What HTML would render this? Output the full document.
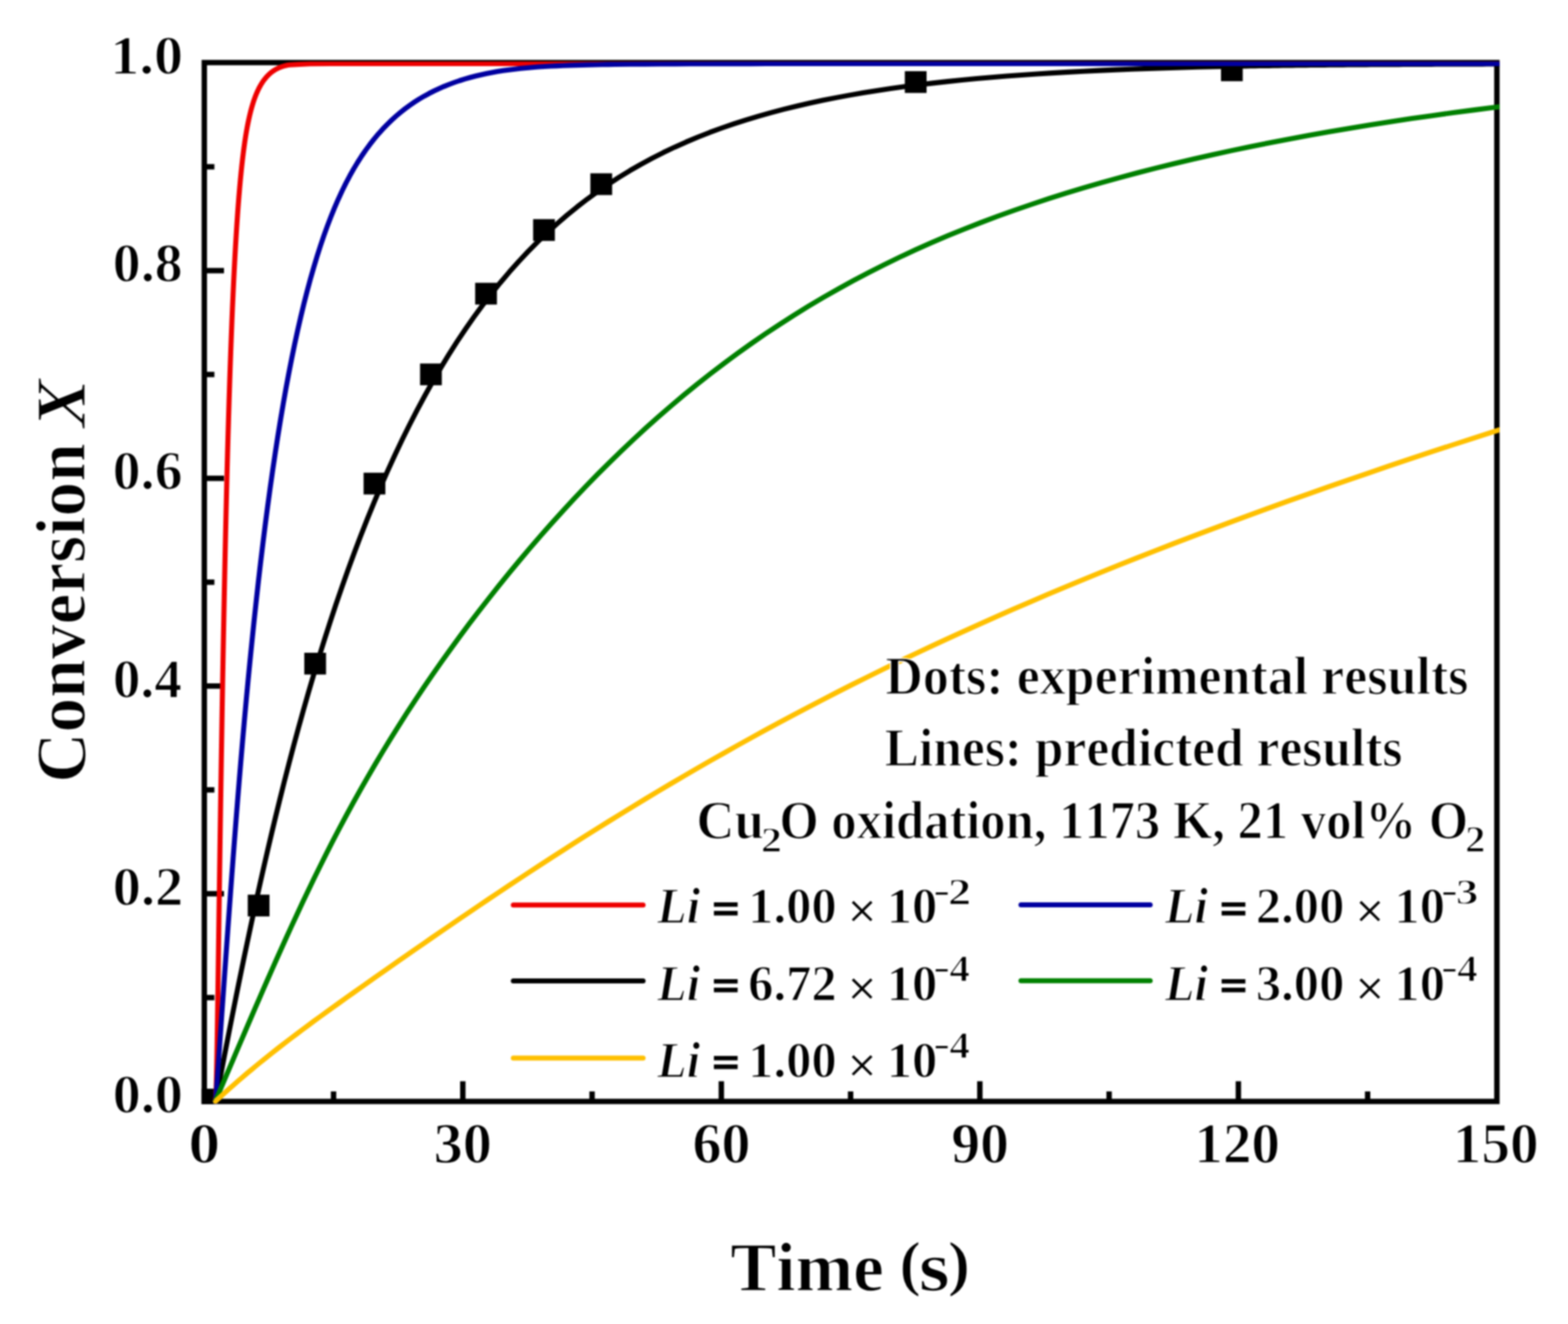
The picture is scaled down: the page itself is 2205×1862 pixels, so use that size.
<!DOCTYPE html>
<html><head><meta charset="utf-8"><style>
html,body{margin:0;padding:0;background:#fff;}
svg{display:block;filter:blur(1.0px);}
text{font-family:"Liberation Serif",serif;font-weight:bold;font-kerning:none;fill:#000;stroke:#fff;stroke-width:1.60px;vector-effect:non-scaling-stroke;stroke-linejoin:round;}
</style></head><body>
<svg width="2205" height="1862" viewBox="0 0 2205 1862">
<rect x="0" y="0" width="2205" height="1862" fill="#fff"/>
<defs><clipPath id="pc"><rect x="283.5" y="86.5" width="1825.30" height="1466.30"/></clipPath></defs>
<path d="M287.30 88.00 H2105.00 V1549.00 H287.30 Z" fill="none" stroke="#000" stroke-width="7.60" stroke-linejoin="miter"/>
<line x1="287.30" y1="1402.95" x2="301.50" y2="1402.95" stroke="#000" stroke-width="7.60"/>
<line x1="287.30" y1="1256.90" x2="315.00" y2="1256.90" stroke="#000" stroke-width="7.60"/>
<line x1="287.30" y1="1110.85" x2="301.50" y2="1110.85" stroke="#000" stroke-width="7.60"/>
<line x1="287.30" y1="964.80" x2="315.00" y2="964.80" stroke="#000" stroke-width="7.60"/>
<line x1="287.30" y1="818.75" x2="301.50" y2="818.75" stroke="#000" stroke-width="7.60"/>
<line x1="287.30" y1="672.70" x2="315.00" y2="672.70" stroke="#000" stroke-width="7.60"/>
<line x1="287.30" y1="526.65" x2="301.50" y2="526.65" stroke="#000" stroke-width="7.60"/>
<line x1="287.30" y1="380.60" x2="315.00" y2="380.60" stroke="#000" stroke-width="7.60"/>
<line x1="287.30" y1="234.55" x2="301.50" y2="234.55" stroke="#000" stroke-width="7.60"/>
<line x1="469.07" y1="1549.00" x2="469.07" y2="1534.90" stroke="#000" stroke-width="7.60"/>
<line x1="650.84" y1="1549.00" x2="650.84" y2="1520.60" stroke="#000" stroke-width="7.60"/>
<line x1="832.61" y1="1549.00" x2="832.61" y2="1534.90" stroke="#000" stroke-width="7.60"/>
<line x1="1014.38" y1="1549.00" x2="1014.38" y2="1520.60" stroke="#000" stroke-width="7.60"/>
<line x1="1196.15" y1="1549.00" x2="1196.15" y2="1534.90" stroke="#000" stroke-width="7.60"/>
<line x1="1377.92" y1="1549.00" x2="1377.92" y2="1520.60" stroke="#000" stroke-width="7.60"/>
<line x1="1559.69" y1="1549.00" x2="1559.69" y2="1534.90" stroke="#000" stroke-width="7.60"/>
<line x1="1741.46" y1="1549.00" x2="1741.46" y2="1520.60" stroke="#000" stroke-width="7.60"/>
<line x1="1923.23" y1="1549.00" x2="1923.23" y2="1534.90" stroke="#000" stroke-width="7.60"/>
<g clip-path="url(#pc)">
<rect x="270.70" y="1531.10" width="30.60" height="30.60" fill="#000"/>
<rect x="348.40" y="1258.20" width="30.60" height="30.60" fill="#000"/>
<rect x="427.90" y="918.00" width="30.60" height="30.60" fill="#000"/>
<rect x="511.30" y="664.80" width="30.60" height="30.60" fill="#000"/>
<rect x="590.70" y="511.20" width="30.60" height="30.60" fill="#000"/>
<rect x="668.20" y="397.70" width="30.60" height="30.60" fill="#000"/>
<rect x="749.70" y="308.20" width="30.60" height="30.60" fill="#000"/>
<rect x="830.20" y="243.70" width="30.60" height="30.60" fill="#000"/>
<rect x="1272.40" y="100.10" width="30.60" height="30.60" fill="#000"/>
<rect x="1717.00" y="83.60" width="30.60" height="30.60" fill="#000"/>
<path d="M303.00 1547.50 L303.00 1545.32 L303.01 1545.32 L303.03 1545.32 L303.07 1545.31 L303.12 1545.19 L303.18 1544.91 L303.26 1544.36 L303.36 1543.43 L303.47 1541.99 L303.59 1539.89 L303.73 1536.98 L303.89 1533.09 L304.06 1528.06 L304.24 1521.74 L304.44 1513.95 L304.65 1504.58 L304.88 1493.49 L305.12 1480.59 L305.38 1465.81 L305.65 1449.14 L305.94 1430.58 L306.24 1410.20 L306.55 1388.11 L306.89 1364.47 L307.23 1339.48 L307.59 1313.42 L307.96 1286.57 L308.35 1259.06 L308.76 1230.94 L309.18 1202.27 L309.61 1173.11 L310.06 1143.52 L310.52 1113.57 L311.00 1083.32 L311.49 1052.85 L312.00 1022.22 L312.52 991.50 L313.05 960.77 L313.60 930.09 L314.17 899.53 L314.75 869.17 L315.35 839.07 L315.96 809.29 L316.58 779.90 L317.22 750.97 L317.87 722.54 L318.54 694.68 L319.22 667.43 L319.92 640.82 L320.63 614.88 L321.36 589.65 L322.10 565.13 L322.86 541.35 L323.63 518.32 L324.42 496.06 L325.22 474.57 L326.03 453.86 L326.86 433.94 L327.71 414.80 L328.56 396.44 L329.44 378.85 L330.33 362.04 L331.23 345.98 L332.15 330.68 L333.08 316.11 L334.03 302.25 L334.99 289.10 L335.97 276.64 L336.96 264.84 L337.97 253.68 L338.99 243.15 L340.02 233.23 L341.07 223.88 L342.14 215.09 L343.22 206.83 L344.31 199.09 L345.42 191.83 L346.54 185.04 L347.68 178.68 L348.83 172.74 L350.00 167.17 L351.18 161.96 L352.38 157.08 L353.59 152.50 L354.82 148.21 L356.06 144.19 L357.32 140.42 L358.59 136.88 L359.87 133.56 L361.17 130.44 L362.49 127.51 L363.82 124.76 L365.16 122.18 L366.52 119.75 L367.89 117.47 L369.28 115.33 L370.68 113.31 L372.10 111.42 L373.53 109.65 L374.98 107.98 L376.44 106.42 L377.92 104.96 L379.41 103.59 L380.91 102.31 L382.43 101.12 L383.97 100.00 L385.52 98.97 L387.08 98.01 L388.66 97.12 L390.26 96.30 L391.86 95.54 L393.49 94.84 L395.12 94.21 L396.78 93.63 L398.44 93.10 L400.13 92.63 L401.82 92.20 L403.53 91.82 L405.26 91.48 L407.00 91.17 L435.99 89.62 L464.97 89.51 L493.96 89.50 L522.94 89.50 L551.93 89.50 L580.91 89.50 L609.90 89.50 L638.88 89.50 L667.87 89.50 L696.85 89.50 L725.84 89.50 L754.82 89.50 L783.81 89.50 L812.79 89.50 L841.78 89.50 L870.76 89.50 L899.75 89.50 L928.73 89.50 L957.72 89.50 L986.70 89.50 L1015.69 89.50 L1044.67 89.50 L1073.66 89.50 L1102.64 89.50 L1131.63 89.50 L1160.61 89.50 L1189.60 89.50 L1218.58 89.50 L1247.57 89.50 L1276.55 89.50 L1305.54 89.50 L1334.52 89.50 L1363.51 89.50 L1392.49 89.50 L1421.48 89.50 L1450.46 89.50 L1479.45 89.50 L1508.43 89.50 L1537.42 89.50 L1566.40 89.50 L1595.39 89.50 L1624.37 89.50 L1653.36 89.50 L1682.34 89.50 L1711.33 89.50 L1740.31 89.50 L1769.30 89.50 L1798.28 89.50 L1827.27 89.50 L1856.25 89.50 L1885.24 89.50 L1914.22 89.50 L1943.21 89.50 L1972.19 89.50 L2001.18 89.50 L2030.16 89.50 L2059.15 89.50 L2088.13 89.50 L2117.12 89.50" fill="none" stroke="#ee0000" stroke-width="7.10" stroke-linejoin="round"/>
<path d="M303.00 1547.50 L303.00 1549.00 L303.10 1549.00 L303.40 1548.88 L303.91 1546.19 L304.61 1542.43 L305.52 1537.61 L306.63 1531.73 L307.94 1524.79 L309.46 1516.82 L311.17 1507.81 L313.09 1497.80 L315.21 1486.78 L317.53 1474.77 L320.05 1461.81 L322.78 1447.90 L325.70 1433.07 L328.83 1417.34 L332.16 1400.75 L335.70 1383.32 L339.43 1365.09 L343.36 1346.09 L347.50 1326.36 L351.84 1305.93 L356.38 1284.86 L361.12 1263.17 L366.07 1240.93 L371.22 1218.17 L376.56 1194.96 L382.11 1171.33 L387.87 1147.34 L393.82 1123.05 L399.98 1098.51 L406.33 1073.79 L412.89 1048.91 L419.65 1023.93 L426.62 998.89 L433.78 973.83 L441.15 948.78 L448.72 923.78 L456.49 898.88 L464.46 874.10 L472.63 849.49 L481.01 825.06 L489.58 800.86 L498.36 776.92 L507.34 753.25 L516.53 729.89 L525.91 706.87 L535.50 684.20 L545.29 661.90 L555.28 640.01 L565.47 618.52 L575.86 597.47 L586.46 576.86 L597.26 556.71 L608.26 537.04 L619.46 517.84 L630.86 499.14 L642.46 480.94 L654.27 463.24 L666.28 446.06 L678.49 429.39 L690.90 413.23 L703.52 397.60 L716.33 382.48 L729.35 367.88 L742.57 353.80 L755.99 340.22 L769.61 327.15 L783.44 314.58 L797.46 302.50 L811.69 290.91 L826.12 279.80 L840.75 269.15 L855.59 258.97 L870.62 249.23 L885.86 239.93 L901.30 231.06 L916.94 222.61 L932.79 214.56 L948.83 206.91 L965.08 199.64 L981.53 192.73 L998.18 186.18 L1015.03 179.98 L1032.08 174.11 L1049.34 168.55 L1066.80 163.30 L1084.45 158.33 L1102.32 153.63 L1120.38 149.20 L1138.64 145.02 L1157.11 141.08 L1175.78 137.36 L1194.65 133.87 L1213.72 130.57 L1233.00 127.48 L1252.47 124.57 L1272.15 121.84 L1292.03 119.28 L1312.11 116.88 L1332.39 114.63 L1352.88 112.53 L1373.56 110.57 L1394.45 108.74 L1415.54 107.04 L1436.84 105.46 L1458.33 103.99 L1480.03 102.62 L1501.92 101.36 L1524.02 100.20 L1546.32 99.12 L1568.83 98.13 L1591.53 97.22 L1614.44 96.39 L1637.55 95.63 L1660.86 94.94 L1684.37 94.31 L1708.08 93.74 L1732.00 93.22 L1738.53 93.10 L1745.05 92.98 L1751.58 92.86 L1758.11 92.74 L1764.64 92.63 L1771.16 92.53 L1777.69 92.42 L1784.22 92.33 L1790.75 92.23 L1797.27 92.14 L1803.80 92.05 L1810.33 91.96 L1816.86 91.88 L1823.38 91.80 L1829.91 91.72 L1836.44 91.64 L1842.97 91.57 L1849.49 91.50 L1856.02 91.43 L1862.55 91.37 L1869.08 91.30 L1875.60 91.24 L1882.13 91.18 L1888.66 91.13 L1895.19 91.07 L1901.71 91.02 L1908.24 90.97 L1914.77 90.92 L1921.30 90.87 L1927.82 90.82 L1934.35 90.78 L1940.88 90.73 L1947.40 90.69 L1953.93 90.65 L1960.46 90.61 L1966.99 90.58 L1973.51 90.54 L1980.04 90.50 L1986.57 90.47 L1993.10 90.44 L1999.62 90.41 L2006.15 90.37 L2012.68 90.35 L2019.21 90.32 L2025.73 90.29 L2032.26 90.26 L2038.79 90.24 L2045.32 90.21 L2051.84 90.19 L2058.37 90.16 L2064.90 90.14 L2071.43 90.12 L2077.95 90.10 L2084.48 90.08 L2091.01 90.06 L2097.54 90.04 L2104.06 90.02 L2110.59 90.00 L2117.12 89.99" fill="none" stroke="#000" stroke-width="7.10" stroke-linejoin="round"/>
<path d="M303.00 1547.50 L303.00 1549.00 L303.04 1549.00 L303.16 1549.00 L303.36 1547.34 L303.63 1543.47 L303.99 1538.48 L304.43 1532.37 L304.94 1525.14 L305.54 1516.78 L306.21 1507.28 L306.97 1496.64 L307.80 1484.86 L308.71 1471.94 L309.70 1457.88 L310.77 1442.69 L311.92 1426.37 L313.15 1408.94 L314.46 1390.42 L315.85 1370.83 L317.32 1350.20 L318.87 1328.57 L320.49 1305.98 L322.20 1282.49 L323.98 1258.15 L325.85 1233.03 L327.79 1207.20 L329.81 1180.74 L331.92 1153.73 L334.10 1126.27 L336.36 1098.45 L338.70 1070.38 L341.12 1042.16 L343.62 1013.87 L346.20 985.55 L348.85 957.28 L351.59 929.09 L354.41 901.05 L357.30 873.19 L360.28 845.57 L363.33 818.23 L366.46 791.21 L369.68 764.55 L372.97 738.29 L376.34 712.47 L379.79 687.11 L383.32 662.25 L386.93 637.91 L390.62 614.11 L394.39 590.88 L398.24 568.23 L402.16 546.19 L406.17 524.77 L410.25 503.97 L414.42 483.80 L418.66 464.29 L422.99 445.41 L427.39 427.19 L431.87 409.62 L436.43 392.70 L441.07 376.42 L445.80 360.78 L450.59 345.78 L455.47 331.40 L460.43 317.64 L465.47 304.49 L470.59 291.93 L475.78 279.95 L481.06 268.54 L486.41 257.68 L491.85 247.36 L497.36 237.54 L502.95 228.23 L508.62 219.38 L514.38 210.99 L520.21 203.03 L526.12 195.48 L532.11 188.34 L538.18 181.57 L544.32 175.17 L550.55 169.11 L556.86 163.39 L563.24 157.99 L569.71 152.89 L576.25 148.08 L582.88 143.55 L589.58 139.29 L596.36 135.28 L603.23 131.52 L610.17 127.99 L617.19 124.68 L624.29 121.59 L631.47 118.71 L638.73 116.01 L646.06 113.51 L653.48 111.18 L660.98 109.03 L668.56 107.03 L676.21 105.19 L683.95 103.51 L691.76 101.97 L699.65 100.57 L707.63 99.31 L715.68 98.17 L723.81 97.15 L732.02 96.24 L740.31 95.43 L748.68 94.71 L757.13 94.07 L765.66 93.51 L774.26 93.02 L782.95 92.58 L791.72 92.21 L800.56 91.88 L809.49 91.59 L818.49 91.34 L827.57 91.12 L836.74 90.94 L845.98 90.77 L855.30 90.63 L864.70 90.51 L885.93 90.27 L907.15 90.09 L928.38 89.95 L949.61 89.84 L970.84 89.76 L992.06 89.70 L1013.29 89.65 L1034.52 89.62 L1055.75 89.59 L1076.97 89.57 L1098.20 89.55 L1119.43 89.54 L1140.66 89.53 L1161.88 89.52 L1183.11 89.52 L1204.34 89.51 L1225.57 89.51 L1246.79 89.51 L1268.02 89.51 L1289.25 89.50 L1310.48 89.50 L1331.70 89.50 L1352.93 89.50 L1374.16 89.50 L1395.39 89.50 L1416.61 89.50 L1437.84 89.50 L1459.07 89.50 L1480.30 89.50 L1501.52 89.50 L1522.75 89.50 L1543.98 89.50 L1565.20 89.50 L1586.43 89.50 L1607.66 89.50 L1628.89 89.50 L1650.11 89.50 L1671.34 89.50 L1692.57 89.50 L1713.80 89.50 L1735.02 89.50 L1756.25 89.50 L1777.48 89.50 L1798.71 89.50 L1819.93 89.50 L1841.16 89.50 L1862.39 89.50 L1883.62 89.50 L1904.84 89.50 L1926.07 89.50 L1947.30 89.50 L1968.53 89.50 L1989.75 89.50 L2010.98 89.50 L2032.21 89.50 L2053.44 89.50 L2074.66 89.50 L2095.89 89.50 L2117.12 89.50" fill="none" stroke="#0000a0" stroke-width="7.10" stroke-linejoin="round"/>
<path d="M303.00 1547.50 L303.00 1548.27 L303.13 1547.98 L303.51 1547.08 L304.14 1545.60 L305.03 1543.51 L306.18 1540.83 L307.58 1537.56 L309.23 1533.68 L311.14 1529.21 L313.30 1524.14 L315.71 1518.47 L318.38 1512.20 L321.31 1505.34 L324.49 1497.88 L327.92 1489.82 L331.60 1481.17 L335.55 1471.94 L339.74 1462.12 L344.19 1451.73 L348.89 1440.76 L353.85 1429.24 L359.06 1417.16 L364.53 1404.55 L370.25 1391.41 L376.23 1377.76 L382.46 1363.63 L388.94 1349.02 L395.68 1333.97 L402.67 1318.50 L409.92 1302.63 L417.42 1286.39 L425.17 1269.82 L433.18 1252.94 L441.45 1235.81 L449.96 1218.44 L458.74 1200.88 L467.76 1183.18 L477.04 1165.38 L486.58 1147.49 L496.37 1129.53 L506.41 1111.52 L516.71 1093.46 L527.26 1075.38 L538.06 1057.28 L549.13 1039.17 L560.44 1021.06 L572.01 1002.96 L583.83 984.88 L595.91 966.82 L608.24 948.79 L620.83 930.78 L633.67 912.82 L646.76 894.88 L660.11 876.99 L673.71 859.13 L687.57 841.31 L701.68 823.53 L716.05 805.80 L730.67 788.12 L745.54 770.51 L760.67 752.99 L776.05 735.58 L791.69 718.29 L807.58 701.14 L823.73 684.14 L840.13 667.31 L856.78 650.66 L873.69 634.21 L890.85 617.96 L908.27 601.94 L925.94 586.15 L943.87 570.60 L962.05 555.31 L980.48 540.29 L999.17 525.54 L1018.11 511.07 L1037.31 496.89 L1056.76 483.01 L1076.46 469.44 L1096.42 456.17 L1116.64 443.22 L1137.11 430.59 L1157.83 418.28 L1178.80 406.30 L1200.04 394.64 L1221.52 383.31 L1243.26 372.31 L1265.25 361.64 L1287.50 351.30 L1310.00 341.29 L1332.76 331.59 L1355.77 322.19 L1379.04 313.10 L1402.55 304.29 L1426.33 295.75 L1450.36 287.49 L1474.64 279.48 L1499.17 271.72 L1523.96 264.21 L1549.01 256.92 L1574.31 249.87 L1599.86 243.03 L1625.67 236.40 L1651.73 229.98 L1678.05 223.75 L1704.62 217.72 L1731.44 211.87 L1758.52 206.21 L1785.85 200.72 L1813.44 195.40 L1841.28 190.25 L1869.38 185.26 L1897.73 180.43 L1926.33 175.76 L1955.19 171.24 L1984.31 166.86 L2013.67 162.64 L2043.29 158.56 L2073.17 154.62 L2103.30 150.82 L2103.53 150.79 L2103.77 150.76 L2104.00 150.73 L2104.24 150.71 L2104.47 150.68 L2104.71 150.65 L2104.94 150.62 L2105.17 150.59 L2105.41 150.57 L2105.64 150.54 L2105.88 150.51 L2106.11 150.48 L2106.34 150.45 L2106.58 150.43 L2106.81 150.40 L2107.05 150.37 L2107.28 150.34 L2107.52 150.31 L2107.75 150.29 L2107.98 150.26 L2108.22 150.23 L2108.45 150.20 L2108.69 150.18 L2108.92 150.15 L2109.16 150.12 L2109.39 150.09 L2109.62 150.06 L2109.86 150.04 L2110.09 150.01 L2110.33 149.98 L2110.56 149.95 L2110.79 149.93 L2111.03 149.90 L2111.26 149.87 L2111.50 149.84 L2111.73 149.82 L2111.97 149.79 L2112.20 149.76 L2112.43 149.73 L2112.67 149.71 L2112.90 149.68 L2113.14 149.65 L2113.37 149.62 L2113.60 149.60 L2113.84 149.57 L2114.07 149.54 L2114.31 149.51 L2114.54 149.49 L2114.78 149.46 L2115.01 149.43 L2115.24 149.40 L2115.48 149.38 L2115.71 149.35 L2115.95 149.32 L2116.18 149.29 L2116.42 149.27 L2116.65 149.24 L2116.88 149.21 L2117.12 149.18" fill="none" stroke="#008000" stroke-width="7.10" stroke-linejoin="round"/>
<path d="M303.00 1547.50 L303.00 1548.77 L303.13 1548.65 L303.51 1548.30 L304.14 1547.71 L305.03 1546.88 L306.17 1545.83 L307.57 1544.54 L309.22 1543.03 L311.13 1541.29 L313.28 1539.33 L315.70 1537.15 L318.36 1534.75 L321.28 1532.14 L324.46 1529.33 L327.89 1526.30 L331.57 1523.09 L335.50 1519.67 L339.69 1516.07 L344.14 1512.28 L348.84 1508.31 L353.79 1504.17 L358.99 1499.86 L364.45 1495.38 L370.17 1490.74 L376.13 1485.94 L382.36 1480.99 L388.83 1475.89 L395.56 1470.64 L402.54 1465.25 L409.78 1459.72 L417.27 1454.05 L425.02 1448.25 L433.02 1442.30 L441.27 1436.22 L449.78 1430.00 L458.54 1423.65 L467.55 1417.15 L476.82 1410.51 L486.34 1403.71 L496.12 1396.77 L506.15 1389.67 L516.43 1382.40 L526.97 1374.96 L537.76 1367.37 L548.81 1359.61 L560.11 1351.70 L571.67 1343.63 L583.47 1335.41 L595.54 1327.05 L607.85 1318.53 L620.42 1309.87 L633.24 1301.07 L646.32 1292.14 L659.65 1283.07 L673.24 1273.87 L687.08 1264.55 L701.17 1255.11 L715.52 1245.55 L730.12 1235.89 L744.98 1226.11 L760.09 1216.23 L775.45 1206.26 L791.07 1196.19 L806.94 1186.04 L823.06 1175.81 L839.44 1165.50 L856.07 1155.12 L872.96 1144.68 L890.10 1134.18 L907.50 1123.63 L925.15 1113.04 L943.05 1102.40 L961.20 1091.73 L979.61 1081.03 L998.28 1070.29 L1017.20 1059.54 L1036.37 1048.77 L1055.80 1037.99 L1075.48 1027.20 L1095.41 1016.40 L1115.60 1005.61 L1136.04 994.82 L1156.74 984.04 L1177.69 973.27 L1198.89 962.53 L1220.35 951.81 L1242.06 941.12 L1264.02 930.46 L1286.24 919.83 L1308.72 909.24 L1331.44 898.69 L1354.43 888.17 L1377.66 877.68 L1401.15 867.23 L1424.89 856.82 L1448.89 846.44 L1473.14 836.10 L1497.65 825.79 L1522.40 815.52 L1547.42 805.29 L1572.68 795.08 L1598.20 784.91 L1623.98 774.78 L1650.01 764.67 L1676.29 754.60 L1702.83 744.56 L1729.62 734.55 L1756.66 724.56 L1783.96 714.61 L1811.51 704.69 L1839.32 694.79 L1867.38 684.92 L1895.69 675.08 L1924.26 665.27 L1953.08 655.47 L1982.16 645.71 L2011.49 635.96 L2041.07 626.25 L2070.91 616.55 L2101.00 606.88 L2101.27 606.79 L2101.55 606.71 L2101.82 606.62 L2102.09 606.53 L2102.37 606.45 L2102.64 606.36 L2102.91 606.28 L2103.19 606.19 L2103.46 606.10 L2103.73 606.02 L2104.01 605.93 L2104.28 605.85 L2104.55 605.76 L2104.82 605.67 L2105.10 605.59 L2105.37 605.50 L2105.64 605.42 L2105.92 605.33 L2106.19 605.25 L2106.46 605.16 L2106.74 605.07 L2107.01 604.99 L2107.28 604.90 L2107.56 604.82 L2107.83 604.73 L2108.10 604.65 L2108.38 604.56 L2108.65 604.47 L2108.92 604.39 L2109.20 604.30 L2109.47 604.22 L2109.74 604.13 L2110.02 604.05 L2110.29 603.96 L2110.56 603.87 L2110.83 603.79 L2111.11 603.70 L2111.38 603.62 L2111.65 603.53 L2111.93 603.45 L2112.20 603.36 L2112.47 603.28 L2112.75 603.19 L2113.02 603.10 L2113.29 603.02 L2113.57 602.93 L2113.84 602.85 L2114.11 602.76 L2114.39 602.68 L2114.66 602.59 L2114.93 602.51 L2115.21 602.42 L2115.48 602.34 L2115.75 602.25 L2116.03 602.17 L2116.30 602.08 L2116.57 602.00 L2116.84 601.91 L2117.12 601.82" fill="none" stroke="#ffc000" stroke-width="7.10" stroke-linejoin="round"/>
</g>
<text transform="matrix(0.78972 0 0 0.79211 158.59 1564.78)" font-size="100" font-style="normal">0.0</text>
<text transform="matrix(0.79302 0 0 0.79211 158.58 1272.68)" font-size="100" font-style="normal">0.2</text>
<text transform="matrix(0.77680 0 0 0.79211 158.64 980.58)" font-size="100" font-style="normal">0.4</text>
<text transform="matrix(0.78385 0 0 0.79211 158.61 688.48)" font-size="100" font-style="normal">0.6</text>
<text transform="matrix(0.78645 0 0 0.79211 158.60 396.38)" font-size="100" font-style="normal">0.8</text>
<text transform="matrix(0.81902 0 0 0.79211 155.04 104.28)" font-size="100" font-style="normal">1.0</text>
<text transform="matrix(0.89187 0 0 0.80616 265.00 1634.81)" font-size="100" font-style="normal">0</text>
<text transform="matrix(0.82115 0 0 0.80616 609.80 1634.81)" font-size="100" font-style="normal">30</text>
<text transform="matrix(0.81812 0 0 0.80616 973.63 1634.81)" font-size="100" font-style="normal">60</text>
<text transform="matrix(0.81214 0 0 0.80616 1337.75 1634.81)" font-size="100" font-style="normal">90</text>
<text transform="matrix(0.80400 0 0 0.80616 1679.47 1634.81)" font-size="100" font-style="normal">120</text>
<text transform="matrix(0.80400 0 0 0.80616 2043.01 1634.81)" font-size="100" font-style="normal">150</text>
<text transform="matrix(0.98824 0 0 1 1026.88 1814.50)" font-size="98.351" font-style="normal">Time</text>
<text transform="matrix(0.91109 0 0 0.85912 1264.80 1805.51)" font-size="100" font-style="normal">(</text>
<text transform="matrix(1.10921 0 0 0.99177 1292.24 1815.23)" font-size="100" font-style="normal">s</text>
<text transform="matrix(0.94613 0 0 0.85912 1332.75 1805.51)" font-size="100" font-style="normal">)</text>
<text transform="matrix(0 -0.99005 1 0 119.40 1100.77)" font-size="98.656" font-style="normal">Conversion</text>
<text transform="matrix(0 -1.03084 1 0 119.40 601.12)" font-size="98.656" font-style="italic">X</text>
<text transform="matrix(0.97289 0 0 1 1244.92 975.50)" font-size="75.137" font-style="normal">Dots: experimental results</text>
<text transform="matrix(0.95818 0 0 1 1244.06 1077.30)" font-size="75.596" font-style="normal">Lines: predicted results</text>
<text transform="matrix(0.98423 0 0 1 979.37 1178.80)" font-size="75.443" font-style="normal">Cu</text>
<text transform="matrix(0.59272 0 0 0.51502 1070.11 1197.90)" font-size="100" font-style="normal">2</text>
<text transform="matrix(0.94323 0 0 1 1095.93 1178.80)" font-size="75.443" font-style="normal">O oxidation, 1173 K, 21 vol% O</text>
<text transform="matrix(0.57344 0 0 0.52106 2060.19 1198.10)" font-size="100" font-style="normal">2</text>
<line x1="721.90" y1="1272.80" x2="904.30" y2="1272.80" stroke="#ee0000" stroke-width="7.1" stroke-linecap="round"/>
<text transform="matrix(0.93302 0 0 1 924.30 1298.30)" font-size="72.847" font-style="italic">Li</text>
<text transform="matrix(0.66904 0 0 0.61107 1001.87 1297.52)" font-size="100" style="stroke:#000;stroke-width:2.20px;stroke-linejoin:miter">=</text>
<text transform="matrix(0.712608 0 0 0.709659 1052.01 1298.40)" font-size="100">1.00</text>
<text transform="matrix(0.75389 0 0 0.74102 1191.00 1306.39)" font-size="100" font-style="normal">×</text>
<text transform="matrix(0.712608 0 0 0.709659 1246.89 1298.40)" font-size="100">10</text>
<text transform="matrix(0.38508 0 0 0.75905 1313.27 1281.73)" font-size="100" font-style="normal">−</text>
<text transform="matrix(0.65536 0 0 0.52257 1333.05 1271.70)" font-size="100" font-style="normal">2</text>
<line x1="1435.80" y1="1272.50" x2="1617.40" y2="1272.50" stroke="#0000a0" stroke-width="7.1" stroke-linecap="round"/>
<text transform="matrix(0.93302 0 0 1 1638.20 1298.30)" font-size="72.847" font-style="italic">Li</text>
<text transform="matrix(0.66904 0 0 0.61107 1715.77 1297.52)" font-size="100" style="stroke:#000;stroke-width:2.20px;stroke-linejoin:miter">=</text>
<text transform="matrix(0.712608 0 0 0.709659 1765.91 1298.40)" font-size="100">2.00</text>
<text transform="matrix(0.75389 0 0 0.74102 1904.90 1306.39)" font-size="100" font-style="normal">×</text>
<text transform="matrix(0.712608 0 0 0.709659 1960.79 1298.40)" font-size="100">10</text>
<text transform="matrix(0.38508 0 0 0.75905 2027.17 1281.73)" font-size="100" font-style="normal">−</text>
<text transform="matrix(0.63518 0 0 0.51498 2047.31 1271.20)" font-size="100" font-style="normal">3</text>
<line x1="721.90" y1="1379.50" x2="904.30" y2="1379.50" stroke="#000" stroke-width="7.1" stroke-linecap="round"/>
<text transform="matrix(0.93302 0 0 1 924.30 1406.80)" font-size="72.847" font-style="italic">Li</text>
<text transform="matrix(0.66904 0 0 0.61107 1001.87 1406.02)" font-size="100" style="stroke:#000;stroke-width:2.20px;stroke-linejoin:miter">=</text>
<text transform="matrix(0.712608 0 0 0.709659 1052.01 1406.90)" font-size="100">6.72</text>
<text transform="matrix(0.75389 0 0 0.74102 1191.00 1414.89)" font-size="100" font-style="normal">×</text>
<text transform="matrix(0.712608 0 0 0.709659 1246.89 1406.90)" font-size="100">10</text>
<text transform="matrix(0.38508 0 0 0.75905 1313.27 1390.23)" font-size="100" font-style="normal">−</text>
<text transform="matrix(0.58148 0 0 0.52567 1335.01 1380.20)" font-size="100" font-style="normal">4</text>
<line x1="1435.80" y1="1379.30" x2="1617.40" y2="1379.30" stroke="#008000" stroke-width="7.1" stroke-linecap="round"/>
<text transform="matrix(0.93302 0 0 1 1638.20 1406.80)" font-size="72.847" font-style="italic">Li</text>
<text transform="matrix(0.66904 0 0 0.61107 1715.77 1406.02)" font-size="100" style="stroke:#000;stroke-width:2.20px;stroke-linejoin:miter">=</text>
<text transform="matrix(0.712608 0 0 0.709659 1765.91 1406.90)" font-size="100">3.00</text>
<text transform="matrix(0.75389 0 0 0.74102 1904.90 1414.89)" font-size="100" font-style="normal">×</text>
<text transform="matrix(0.712608 0 0 0.709659 1960.79 1406.90)" font-size="100">10</text>
<text transform="matrix(0.38508 0 0 0.75905 2027.17 1390.23)" font-size="100" font-style="normal">−</text>
<text transform="matrix(0.58148 0 0 0.52567 2048.91 1380.20)" font-size="100" font-style="normal">4</text>
<line x1="721.90" y1="1488.00" x2="904.30" y2="1488.00" stroke="#ffc000" stroke-width="7.1" stroke-linecap="round"/>
<text transform="matrix(0.93302 0 0 1 924.30 1514.80)" font-size="72.847" font-style="italic">Li</text>
<text transform="matrix(0.66904 0 0 0.61107 1001.87 1514.02)" font-size="100" style="stroke:#000;stroke-width:2.20px;stroke-linejoin:miter">=</text>
<text transform="matrix(0.712608 0 0 0.709659 1052.01 1514.90)" font-size="100">1.00</text>
<text transform="matrix(0.75389 0 0 0.74102 1191.00 1522.89)" font-size="100" font-style="normal">×</text>
<text transform="matrix(0.712608 0 0 0.709659 1246.89 1514.90)" font-size="100">10</text>
<text transform="matrix(0.38508 0 0 0.75905 1313.27 1498.23)" font-size="100" font-style="normal">−</text>
<text transform="matrix(0.58148 0 0 0.52567 1335.01 1488.20)" font-size="100" font-style="normal">4</text>
</svg>
</body></html>
